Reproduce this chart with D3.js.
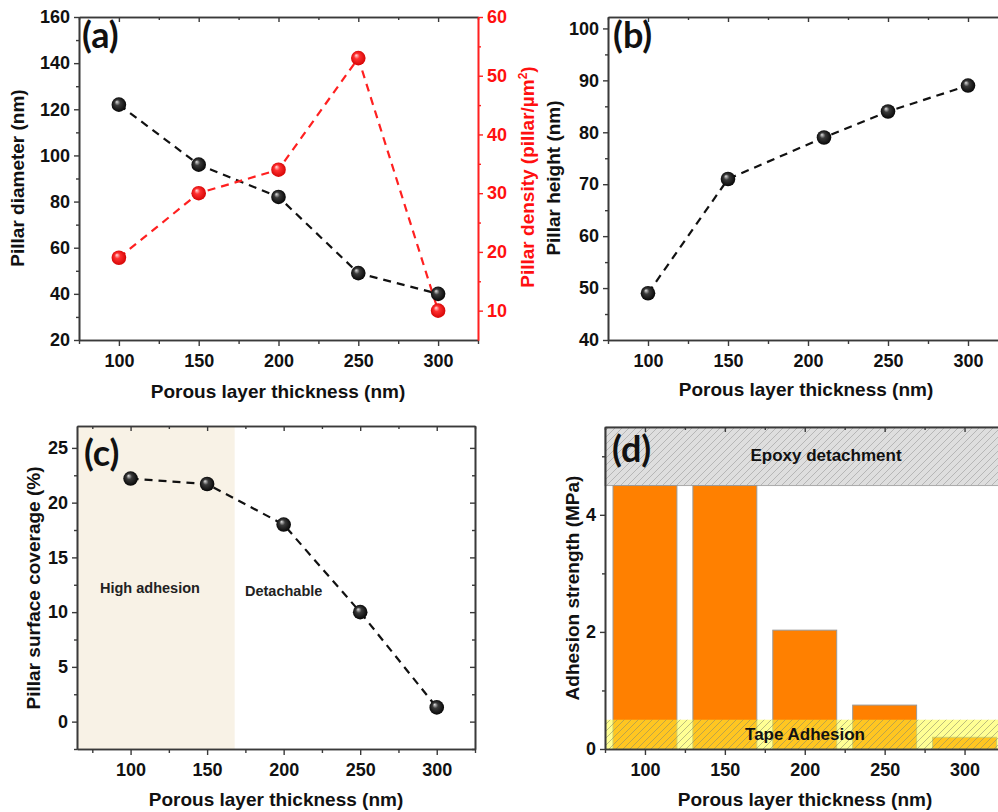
<!DOCTYPE html>
<html>
<head>
<meta charset="utf-8">
<script src="https://cdn.jsdelivr.net/npm/d3@7"></script>
<style>
body{margin:0;background:#fff;}
svg{display:block;}
text{font-family:"Liberation Sans",Arial,sans-serif;font-weight:bold;}
</style>
</head>
<body>
<svg id="chart" width="998" height="812"></svg>
<script>
// ---------- data ----------
const thickness = [100, 150, 200, 250, 300];
const xTickLabels = ["100", "150", "200", "250", "300"];
const diameterVals = [122, 96, 82, 49, 40];
const densityVals = [19, 30, 34, 53, 10];
const heightX = [100, 150, 210, 250, 300];
const heightVals = [49, 71, 79, 84, 89];
const coverageVals = [22.2, 21.7, 18, 10, 1.3];
const adhesionVals = [4.5, 4.5, 2.03, 0.75, 0.2];
const highAdhesionEnd = 168;
const epoxyRange = [4.5, 5.5];
const tapeRange = [0, 0.5];

const svg = d3.select("#chart");
const AX = "#3a3a3a";
const defs = svg.append("defs");

function ball(id, c0, c1, c2) {
  const g = defs.append("radialGradient").attr("id", id)
    .attr("cx", "50%").attr("cy", "50%").attr("r", "55%").attr("fx", "35%").attr("fy", "30%");
  g.append("stop").attr("offset", "0%").attr("stop-color", c0);
  g.append("stop").attr("offset", "35%").attr("stop-color", c1);
  g.append("stop").attr("offset", "100%").attr("stop-color", c2);
}
ball("gBlack", "#e0e0e0", "#3a3a3a", "#000");
ball("gRed", "#ffe0e0", "#ff3030", "#d00000");

function hatch(id, bg, line, w) {
  const p = defs.append("pattern").attr("id", id).attr("patternUnits", "userSpaceOnUse")
    .attr("width", 7).attr("height", 7);
  if (bg) p.append("rect").attr("width", 7).attr("height", 7).attr("fill", bg);
  p.append("path").attr("d", "M-1,1 l2,-2 M0,7 l7,-7 M6,8 l2,-2")
    .attr("stroke", line).attr("stroke-width", w);
}
hatch("hGray", "#dedede", "#9a9a9a", 0.6);
hatch("hLine", null, "#8a8a6a", 0.7);

function axes(x, y, opt) {
  const [x0, x1] = x.range();
  const [y0, y1] = y.range();
  const g = svg.append("g");
  g.append("g").attr("transform", `translate(0,${y0})`)
    .call(d3.axisBottom(x).tickValues(opt.xMinor).tickSize(4).tickSizeOuter(0).tickFormat(""));
  g.append("g").attr("transform", `translate(0,${y0})`)
    .call(d3.axisBottom(x).tickValues(thickness).tickSize(6).tickSizeOuter(0).tickPadding(8)
      .tickFormat((d, i) => xTickLabels[i]));
  g.append("g").attr("transform", `translate(0,${y1})`)
    .call(d3.axisTop(x).tickValues(opt.xMinor).tickSize(-3).tickSizeOuter(0).tickFormat(""));
  g.append("g").attr("transform", `translate(0,${y1})`)
    .call(d3.axisTop(x).tickValues(thickness).tickSize(-5).tickSizeOuter(0).tickFormat(""));
  g.append("g").attr("transform", `translate(${x0},0)`)
    .call(d3.axisLeft(y).tickValues(opt.yMinor).tickSize(3).tickSizeOuter(0).tickFormat(""));
  g.append("g").attr("transform", `translate(${x0},0)`)
    .call(d3.axisLeft(y).tickValues(opt.yMajor).tickSize(5).tickSizeOuter(0).tickPadding(4)
      .tickFormat(d3.format("d")));
  if (opt.right) {
    g.append("g").attr("transform", `translate(${x1},0)`)
      .call(d3.axisRight(y).tickValues(opt.yMinor).tickSize(-3).tickSizeOuter(0).tickFormat(""));
    g.append("g").attr("transform", `translate(${x1},0)`)
      .call(d3.axisRight(y).tickValues(opt.yMajor).tickSize(-5).tickSizeOuter(0).tickFormat(""));
  }
  g.selectAll("path.domain").attr("stroke", AX).attr("stroke-width", 1.6);
  g.selectAll(".tick line").attr("stroke", AX).attr("stroke-width", 1.4);
  g.selectAll(".tick text").attr("fill", "#111").style("font-size", "18px")
    .style("font-family", "'Liberation Sans',Arial,sans-serif").style("font-weight", "bold");
  return g;
}

function label(txt, x, y, rot, size, color) {
  return svg.append("text").attr("x", x).attr("y", y).attr("text-anchor", "middle")
    .attr("transform", rot ? `rotate(-90,${x},${y})` : null)
    .attr("fill", color || "#111").style("font-size", (size || 19) + "px").text(txt);
}
function panelTag(txt, x, y) {
  svg.append("text").attr("x", x).attr("y", y).attr("fill", "#111")
    .style("font-family", "Lato,'Open Sans',sans-serif").style("font-weight", "bold")
    .style("font-size", "36px").text(txt);
}
const dashed = (x, y, xs, vs, color) => {
  svg.append("path").datum(vs.map((v, i) => [xs[i], v]))
    .attr("fill", "none").attr("stroke", color).attr("stroke-width", 2.2)
    .attr("stroke-dasharray", "8,6")
    .attr("d", d3.line().x(d => x(d[0])).y(d => y(d[1])));
};
const dots = (x, y, xs, vs, grad) => {
  svg.append("g").selectAll("circle").data(vs).join("circle")
    .attr("cx", (d, i) => x(xs[i])).attr("cy", d => y(d)).attr("r", 7.3)
    .attr("fill", `url(#${grad})`);
};
const minorX = [75, 125, 175, 225, 275, 325];

// ---------- panel (a) ----------
{
  const x = d3.scaleLinear().domain([75, 325]).range([79, 478]);
  const y = d3.scaleLinear().domain([20, 160]).range([340, 17]);
  const yR = d3.scaleLinear().domain([5, 60]).range([340, 17]);
  dashed(x, y, thickness, diameterVals, "#111");
  dashed(x, yR, thickness, densityVals, "#ff2020");
  dots(x, y, thickness, diameterVals, "gBlack");
  dots(x, yR, thickness, densityVals, "gRed");
  axes(x, y, {
    xMinor: minorX,
    yMajor: d3.range(20, 161, 20), yMinor: d3.range(30, 160, 20), right: false
  });
  const r = svg.append("g").attr("transform", "translate(478,0)");
  r.append("g").call(d3.axisRight(yR).tickValues([15, 25, 35, 45, 55]).tickSize(3).tickSizeOuter(0).tickFormat(""));
  r.append("g").call(d3.axisRight(yR).tickValues([10, 20, 30, 40, 50, 60]).tickSize(5).tickSizeOuter(0).tickPadding(4).tickFormat(d3.format("d")));
  r.selectAll("path.domain").attr("stroke", "#ff2020").attr("stroke-width", 1.6);
  r.selectAll(".tick line").attr("stroke", "#ff2020").attr("stroke-width", 1.4);
  r.selectAll(".tick text").attr("fill", "#ff1010").style("font-size", "18px")
    .style("font-family", "'Liberation Sans',Arial,sans-serif").style("font-weight", "bold");
  panelTag("(a)", 82, 48);
  label("Pillar diameter (nm)", 24, 178, true);
  label("Porous layer thickness (nm)", 278, 398);
  const t = svg.append("text").attr("transform", "translate(534,177) rotate(-90)")
    .attr("text-anchor", "middle").attr("fill", "#ff1010").style("font-size", "19px");
  t.append("tspan").text("Pillar density (pillar/µm");
  t.append("tspan").attr("dy", -7).style("font-size", "12px").text("2");
  t.append("tspan").attr("dy", 7).text(")");
}

// ---------- panel (b) ----------
{
  const x = d3.scaleLinear().domain([75, 325]).range([608, 1008]);
  const y = d3.scaleLinear().domain([40, 102.2]).range([340, 17]);
  dashed(x, y, heightX, heightVals, "#111");
  dots(x, y, heightX, heightVals, "gBlack");
  axes(x, y, {
    xMinor: minorX,
    yMajor: d3.range(40, 101, 10), yMinor: d3.range(45, 101, 10), right: false
  });
  panelTag("(b)", 613, 48);
  label("Pillar height (nm)", 560, 178, true);
  label("Porous layer thickness (nm)", 806, 396);
}

// ---------- panel (c) ----------
{
  const x = d3.scaleLinear().domain([65, 325]).range([77, 475]);
  const y = d3.scaleLinear().domain([-2.5, 27]).range([749, 426]);
  svg.append("rect").attr("x", x(65)).attr("y", y(27))
    .attr("width", x(highAdhesionEnd) - x(65)).attr("height", y(-2.5) - y(27))
    .attr("fill", "#f8f2e6");
  dashed(x, y, thickness, coverageVals, "#111");
  dots(x, y, thickness, coverageVals, "gBlack");
  axes(x, y, {
    xMinor: minorX,
    yMajor: [0, 5, 10, 15, 20, 25], yMinor: [-2.5, 2.5, 7.5, 12.5, 17.5, 22.5], right: true
  });
  panelTag("(c)", 84, 466);
  svg.append("text").attr("x", 100).attr("y", 593).attr("fill", "#222")
    .style("font-size", "14.5px").text("High adhesion");
  svg.append("text").attr("x", 245).attr("y", 596).attr("fill", "#222")
    .style("font-size", "14.5px").text("Detachable");
  label("Pillar surface coverage (%)", 40, 588, true);
  label("Porous layer thickness (nm)", 276, 806);
}

// ---------- panel (d) ----------
{
  const x = d3.scaleLinear().domain([75, 325]).range([605, 1004.5]);
  const y = d3.scaleLinear().domain([0, 5.5]).range([749, 427]);
  svg.append("rect").attr("x", x(75)).attr("y", y(epoxyRange[1]))
    .attr("width", x(325) - x(75)).attr("height", y(epoxyRange[0]) - y(epoxyRange[1]))
    .attr("fill", "url(#hGray)").attr("stroke", "#aaa").attr("stroke-width", 1);
  svg.append("g").selectAll("rect").data(adhesionVals).join("rect")
    .attr("x", (d, i) => x(thickness[i] - 20)).attr("width", x(120) - x(80))
    .attr("y", d => y(d)).attr("height", d => y(0) - y(d))
    .attr("fill", "#ff8000").attr("stroke", "#999").attr("stroke-width", 1);
  svg.append("rect").attr("x", x(75)).attr("y", y(tapeRange[1]))
    .attr("width", x(325) - x(75)).attr("height", y(tapeRange[0]) - y(tapeRange[1]))
    .attr("fill", "rgba(255,255,60,0.55)");
  svg.append("rect").attr("x", x(75)).attr("y", y(tapeRange[1]))
    .attr("width", x(325) - x(75)).attr("height", y(tapeRange[0]) - y(tapeRange[1]))
    .attr("fill", "url(#hLine)").attr("opacity", 0.8);
  axes(x, y, {
    xMinor: minorX,
    yMajor: [0, 2, 4], yMinor: [1, 3, 5], right: false
  });
  panelTag("(d)", 612, 462);
  svg.append("text").attr("x", 826).attr("y", 461).attr("text-anchor", "middle")
    .attr("fill", "#111").style("font-size", "17px").text("Epoxy detachment");
  svg.append("text").attr("x", 805).attr("y", 740).attr("text-anchor", "middle")
    .attr("fill", "#111").style("font-size", "17px").text("Tape Adhesion");
  label("Adhesion strength (MPa)", 579, 588, true);
  label("Porous layer thickness (nm)", 805, 806);
}
</script>
</body>
</html>
